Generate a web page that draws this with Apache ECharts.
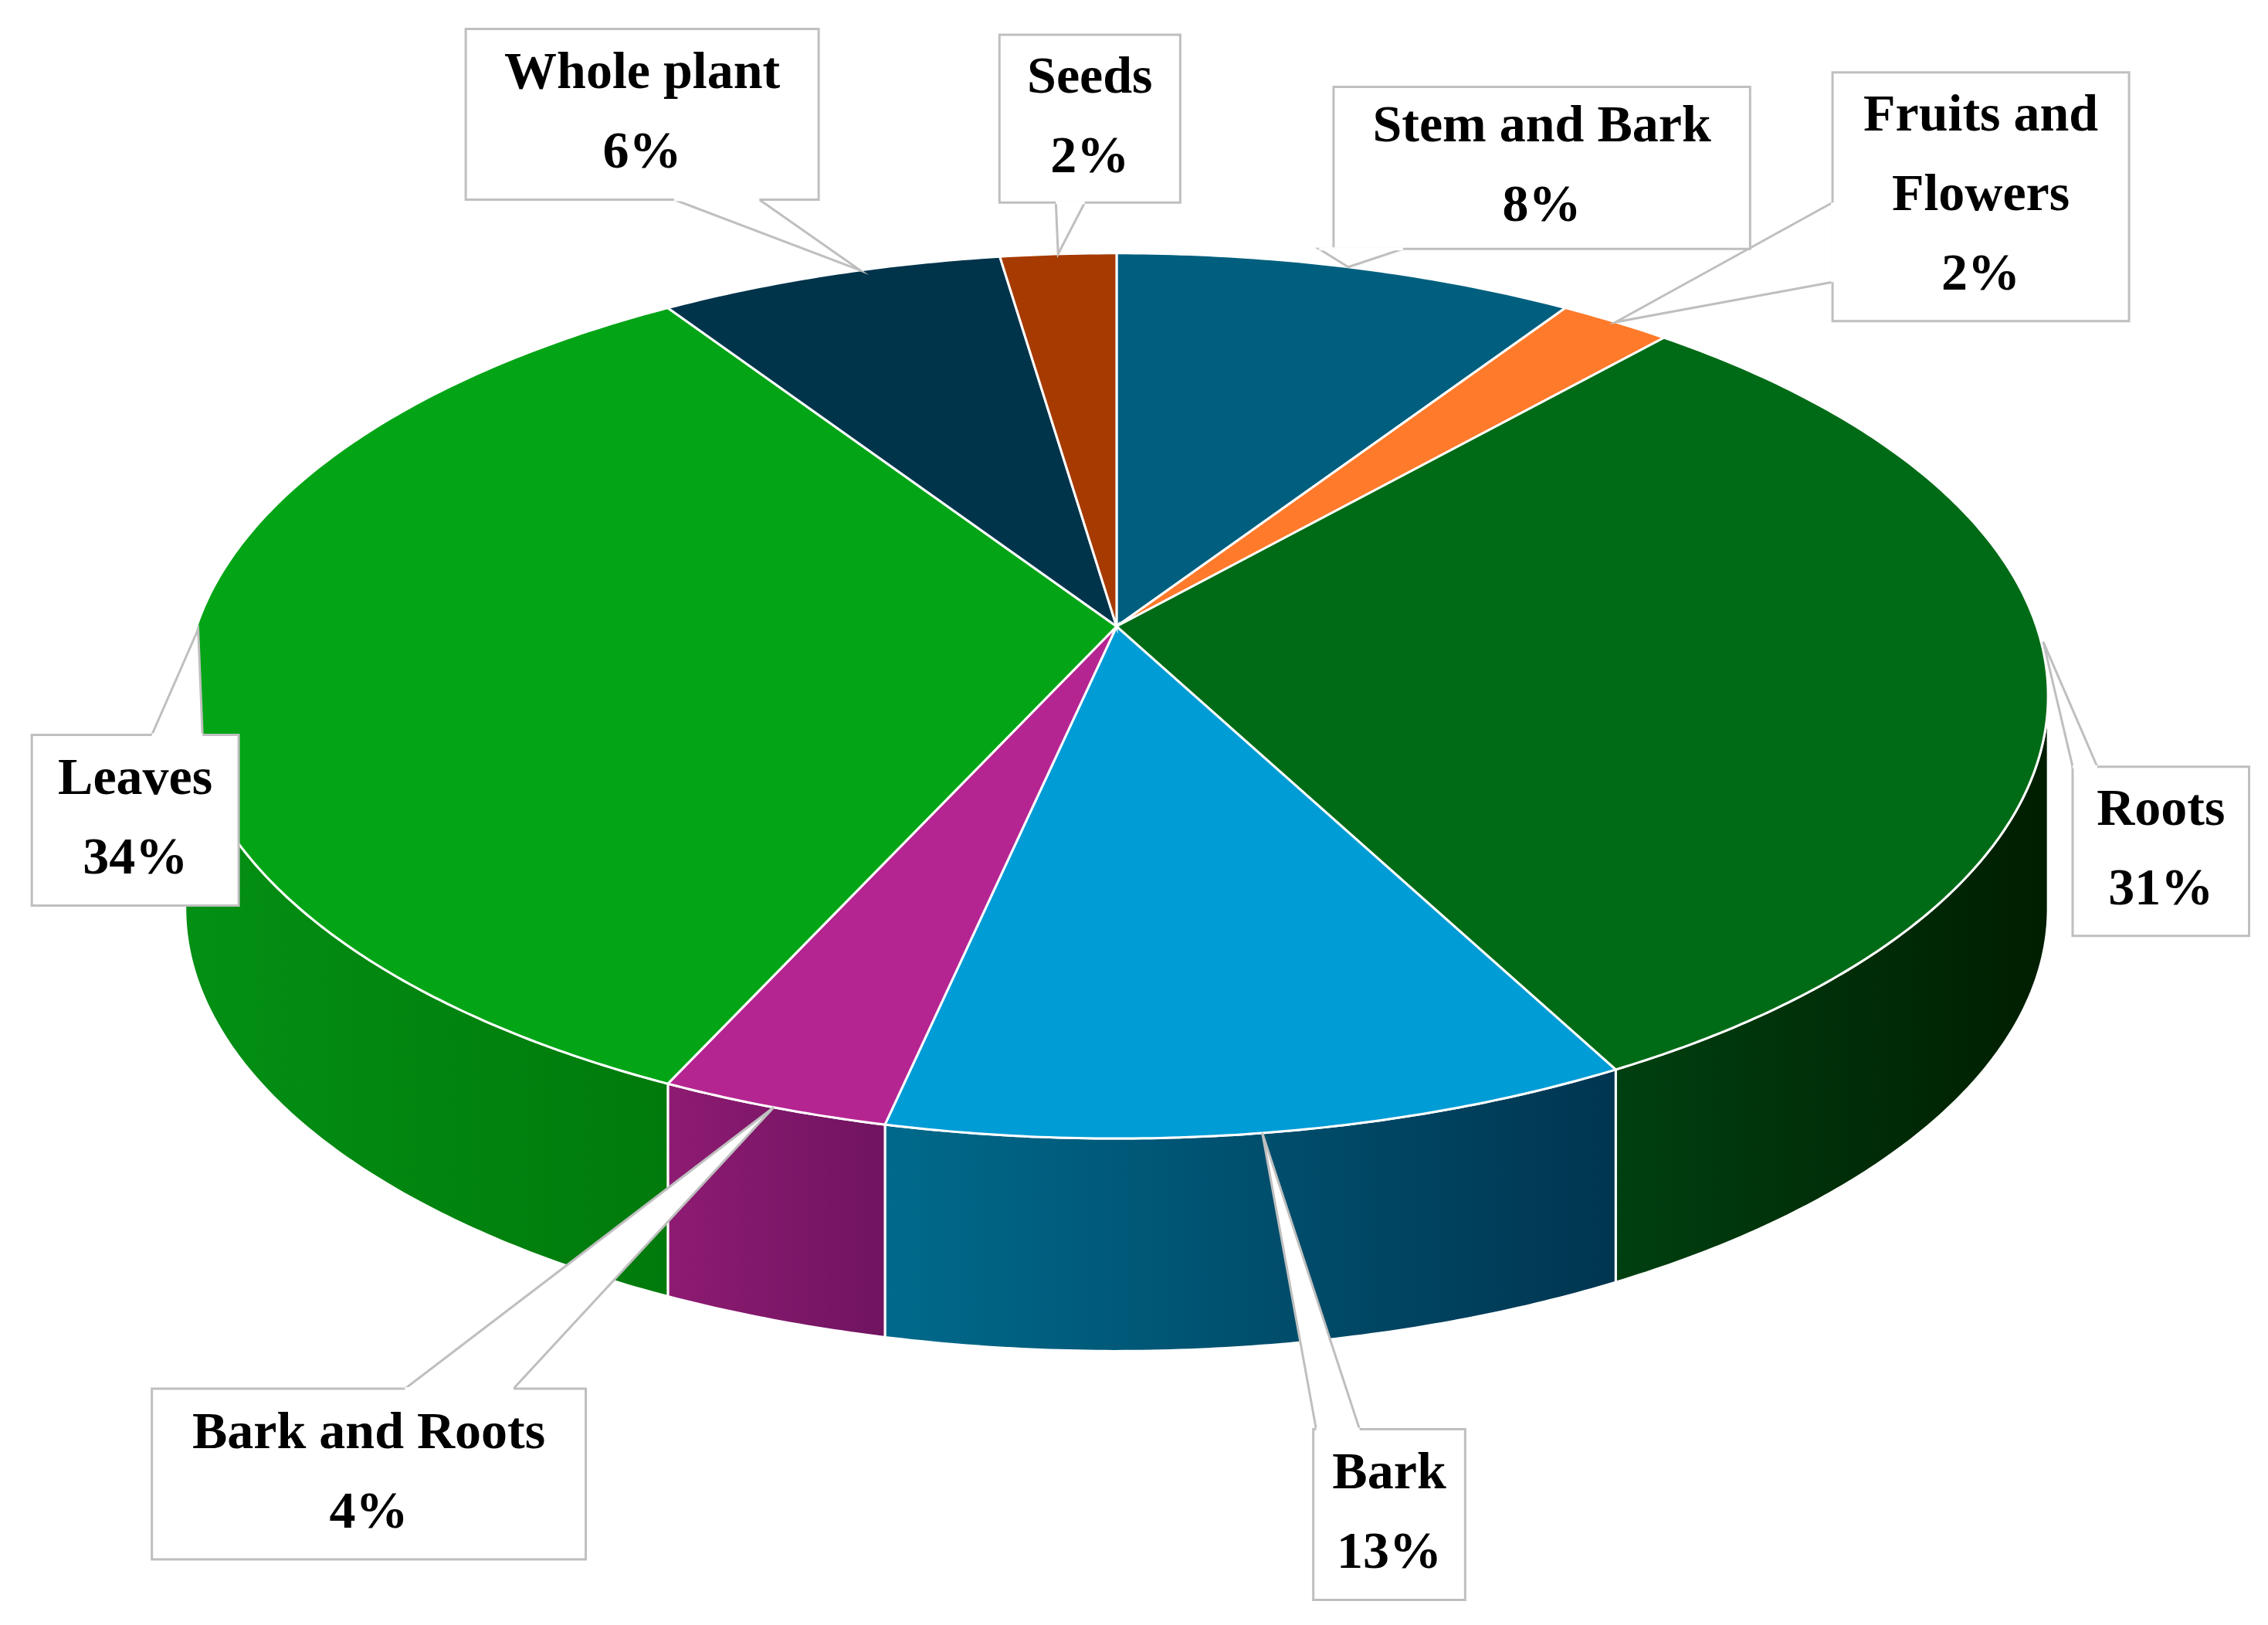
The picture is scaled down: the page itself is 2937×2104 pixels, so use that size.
<!DOCTYPE html>
<html><head><meta charset="utf-8">
<script src="https://cdn.jsdelivr.net/npm/echarts@6/dist/echarts.min.js"></script>
<style>html,body{margin:0;background:#fff}#c{width:2937px;height:2104px}</style>
</head><body><div id="c"></div>
<script>
const categories = ['Stem and Bark','Fruits and Flowers','Roots','Bark','Bark and Roots','Leaves','Whole plant','Seeds'];
const values = [8,2,31,13,4,34,6,2];
const labelText = ['Stem and Bark\n8%','Fruits and\nFlowers\n2%','Roots\n31%','Bark\n13%','Bark and Roots\n4%','Leaves\n34%','Whole plant\n6%','Seeds\n2%'];
const topColors = ['#005F7F','#FF7A2A','#006B16','#009CD6','#B52591','#03A516','#00344B','#A63A00'];
const wallColors = [['#004A66','#003350'],['#E05A10','#A04000'],['#004010','#001E00'],['#006A8C','#003550'],['#8E1B72','#701460'],['#039014','#007A0C'],['#002838','#001A28'],['#802800','#602000']];

const S = 1.873;
const CX = 772*S, AY = 433*S, CY = 481*S, RX = 644*S, RY = 306*S, D = 147*S;
// label boxes in reference coords [x0,y0,x1,y1], callout base points
const boxes = [[922,60,1210,172],[1267,50,1472,222],[1433,530,1555,647],[908,988,1013,1106],[105,960,405,1078],[22,508,165,626],[322,20,566,138],[691,24,816,140]];
const bases = [[[912,172],[970,172]],[[1267,140],[1267,195]],[[1433,530],[1450,530]],[[910,988],[940,988]],[[280,960],[355,960]],[[105,508],[140,508]],[[466,138],[525,138]],[[730,140],[750,140]]];
const anchorFix = [[0,0],[0,0],[-3,-47],[0,0],[0,0],[9,-46],[22,-3],[0,0]];

function P(t, dy){ return [CX + RX*Math.sin(t), CY - RY*Math.cos(t) + (dy||0)]; }
function arc(a,b,dy){ const pts=[]; const n=Math.max(4,Math.ceil((b-a)/0.01)); for(let i=0;i<=n;i++) pts.push(P(a+(b-a)*i/n,dy)); return pts; }

function render(){
  const total = values.reduce((a,b)=>a+b,0);
  const walls=[], tops=[], labels=[];
  let acc=0;
  values.forEach((v,i)=>{
    const a=acc/total*2*Math.PI, b=(acc+v)/total*2*Math.PI; acc+=v;
    tops.push({type:'polygon',shape:{points:[[CX,AY]].concat(arc(a,b))},style:{fill:topColors[i],stroke:'#fff',lineWidth:3},z2:10});
    const wa=Math.max(a,Math.PI/2), wb=Math.min(b,1.5*Math.PI);
    if(wb>wa){
      const top=arc(wa,wb), bot=arc(wa,wb,D).reverse();
      const xs=top.map(p=>p[0]);
      walls.push({type:'polygon',shape:{points:top.concat(bot)},style:{fill:new echarts.graphic.LinearGradient(0,0,1,0,[{offset:0,color:wallColors[i][0]},{offset:1,color:wallColors[i][1]}]),stroke:'#fff',lineWidth:3},z2:5});
    }
    const m=(a+b)/2; const ap=P(m); ap[0]+=anchorFix[i][0]*S; ap[1]+=anchorFix[i][1]*S;
    const bx=boxes[i].map(x=>x*S), bs=bases[i];
    labels.push({type:'polygon',shape:{points:[ap,[bs[0][0]*S,bs[0][1]*S],[bs[1][0]*S,bs[1][1]*S]]},style:{fill:'#fff',stroke:'#BFBFBF',lineWidth:3},z2:20});
    labels.push({type:'rect',shape:{x:bx[0],y:bx[1],width:bx[2]-bx[0],height:bx[3]-bx[1]},style:{fill:'#fff',stroke:'#BFBFBF',lineWidth:3},z2:21});
    labels.push({type:'polygon',shape:{points:[[bs[0][0]*S,bs[0][1]*S],[bs[1][0]*S,bs[1][1]*S],[(bs[0][0]+bs[1][0])/2*S,(bs[0][1]+bs[1][1])/2*S]]},style:{fill:'#fff',stroke:'#fff',lineWidth:4},z2:22});
    labels.push({type:'text',x:(bx[0]+bx[2])/2,y:(bx[1]+bx[3])/2,style:{text:labelText[i],fill:'#000',font:'bold 68px "Liberation Serif", "DejaVu Serif", serif',align:'center',verticalAlign:'middle',lineHeight:103},z2:23});
  });
  return {type:'group',children:walls.concat(tops,labels)};
}

const chart = echarts.init(document.getElementById('c'));
chart.setOption({
  animation:false,
  backgroundColor:'#fff',
  series:[{type:'custom',coordinateSystem:'none',data:[0],renderItem:()=>render()}]
});
</script></body></html>
